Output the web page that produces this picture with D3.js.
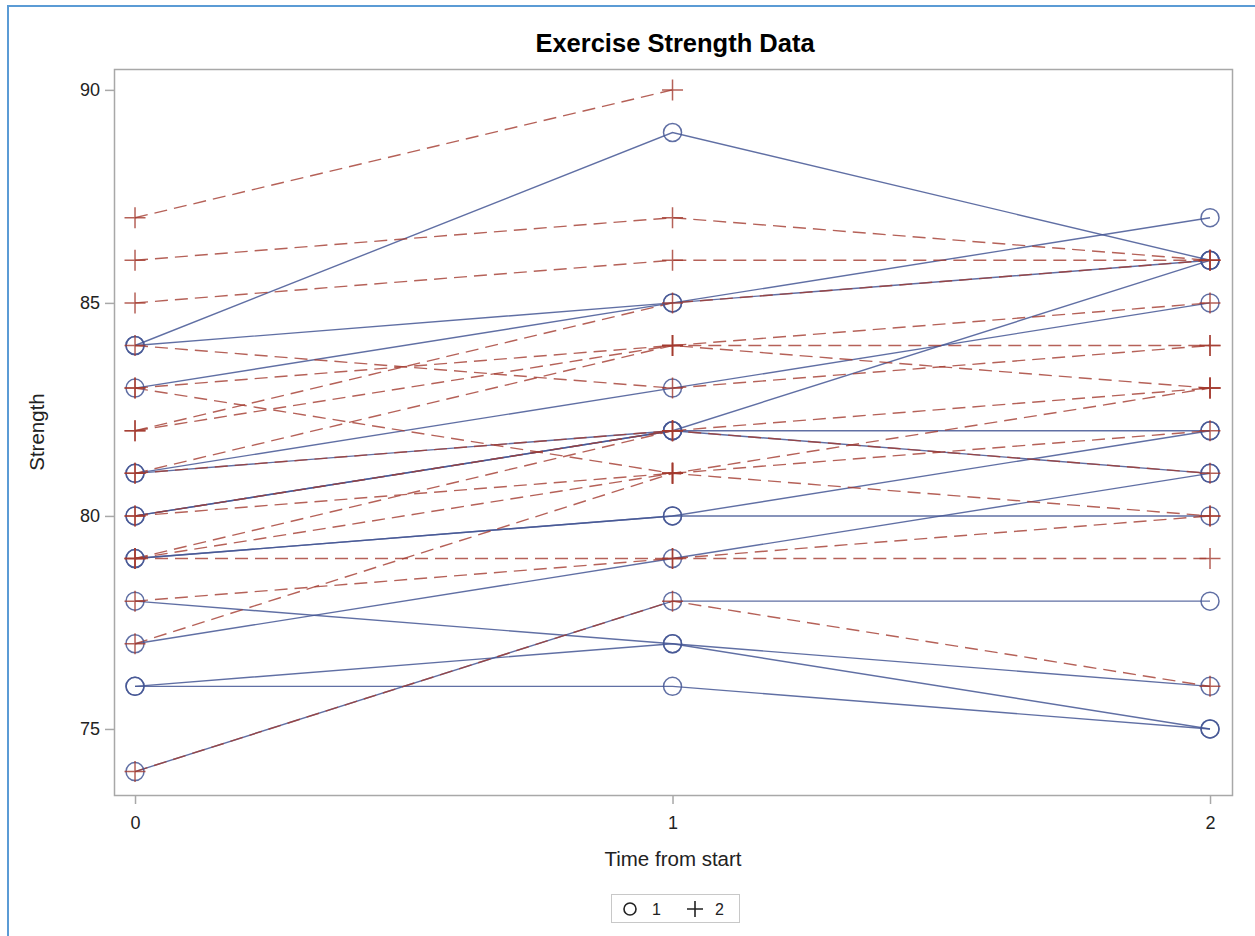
<!DOCTYPE html>
<html><head><meta charset="utf-8">
<script src="https://cdn.jsdelivr.net/npm/d3@7"></script>
<style>body{margin:0;background:#fff;}svg{display:block;font-family:"Liberation Sans",Arial,sans-serif;}</style>
</head><body>
<svg id="c" width="1255" height="936"></svg>
<script>
// ---- data ----
const times = [0, 1, 2];
const yTicks = [75, 80, 85, 90];
const programs = ["1", "2"];
// program 1 subjects: strength at time 0,1,2
const program1 = [
  [84, 89, 86], [84, 85, 87], [83, 85, 86], [81, 83, 85], [81, 82, 86],
  [80, 82, 82], [80, 82, 81], [79, 80, 80], [79, 80, 82], [77, 79, 81],
  [74, 78, 78], [78, 77, 76], [76, 77, 75], [76, 76, 75]
];
// program 2 subjects (null = missing)
const program2 = [
  [87, 90, null], [86, 87, 86], [85, 86, 86], [82, 85, 86], [84, 83, 84],
  [83, 84, 85], [82, 84, 84], [81, 84, 83], [83, 81, 83], [81, 82, 83],
  [80, 82, 81], [79, 82, null], [80, 81, 82], [79, 81, 80], [77, 81, null],
  [79, 79, 80], [78, 79, 79], [74, 78, 76]
];

const svg = d3.select("#c");
const W = 1255, H = 936;
const L = 114, R = 1232, T = 69, B = 795;
const blue = "#445694", red = "#A23A2E";

// page border
svg.append("path").attr("d", `M8,${H} L8,6 L${W},6`).attr("fill", "none")
  .attr("stroke", "#5b9bd5").attr("stroke-width", 2);

const x = d3.scaleLinear().domain([-0.0391, 2.0409]).range([L, R]);
const y = d3.scaleLinear().domain([73.45, 90.49]).range([B, T]);

// title
svg.append("text").attr("x", 675).attr("y", 52).attr("text-anchor", "middle")
  .attr("font-size", 25.5).attr("font-weight", "bold").attr("fill", "#000")
  .text("Exercise Strength Data");

// frame
svg.append("rect").attr("x", L + 0.5).attr("y", T + 0.5).attr("width", R - L).attr("height", B - T)
  .attr("fill", "none").attr("stroke", "#a8a8a8").attr("stroke-width", 1.5);

// axes
const ya = svg.append("g").attr("transform", `translate(${L},0)`)
  .call(d3.axisLeft(y).tickValues(yTicks).tickSize(9).tickPadding(5));
const xa = svg.append("g").attr("transform", `translate(0,${B})`)
  .call(d3.axisBottom(x).tickValues(times).tickSize(9).tickPadding(12).tickFormat(d3.format("d")));
[ya, xa].forEach(g => {
  g.select(".domain").remove();
  g.selectAll(".tick line").attr("stroke", "#a8a8a8").attr("stroke-width", 1.5);
  g.selectAll(".tick text").attr("font-size", 18).attr("fill", "#222")
    .attr("font-family", "'Liberation Sans', Arial, sans-serif");
});

svg.append("text").attr("transform", `translate(44,${(T + B) / 2}) rotate(-90)`)
  .attr("text-anchor", "middle").attr("font-size", 20.5).attr("fill", "#222").text("Strength");
svg.append("text").attr("x", (L + R) / 2).attr("y", 866).attr("text-anchor", "middle")
  .attr("font-size", 20.5).attr("fill", "#222").text("Time from start");

// lines
const line = d3.line().defined(d => d.v != null).x(d => x(d.t)).y(d => y(d.v));
const toPts = s => s.map((v, i) => ({ t: times[i], v }));

const plot = svg.append("g");
plot.selectAll(".l1").data(program1).join("path")
  .attr("d", s => line(toPts(s))).attr("fill", "none")
  .attr("stroke", blue).attr("stroke-opacity", 0.85).attr("stroke-width", 1.4);
plot.selectAll(".l2").data(program2).join("path")
  .attr("d", s => line(toPts(s))).attr("fill", "none")
  .attr("stroke", red).attr("stroke-opacity", 0.8).attr("stroke-width", 1.4)
  .attr("stroke-dasharray", "13,7");

// markers
const pts1 = program1.flatMap(s => toPts(s)).filter(d => d.v != null);
const pts2 = program2.flatMap(s => toPts(s)).filter(d => d.v != null);
plot.selectAll(".m1").data(pts1).join("circle")
  .attr("cx", d => x(d.t)).attr("cy", d => y(d.v)).attr("r", 9)
  .attr("fill", "none").attr("stroke", blue).attr("stroke-opacity", 0.85).attr("stroke-width", 1.5);
const ps = 10.5;
plot.selectAll(".m2").data(pts2).join("path")
  .attr("d", d => `M${x(d.t) - ps},${y(d.v)}H${x(d.t) + ps}M${x(d.t)},${y(d.v) - ps}V${y(d.v) + ps}`)
  .attr("fill", "none").attr("stroke", red).attr("stroke-opacity", 0.8).attr("stroke-width", 1.5);

// legend
const lg = svg.append("g");
lg.append("rect").attr("x", 611.5).attr("y", 894.5).attr("width", 128).attr("height", 28)
  .attr("fill", "#fff").attr("stroke", "#c8c8c8").attr("stroke-width", 1);
lg.append("circle").attr("cx", 630).attr("cy", 909).attr("r", 6)
  .attr("fill", "none").attr("stroke", "#222").attr("stroke-width", 1.6);
lg.append("text").attr("x", 652).attr("y", 915).attr("font-size", 16).attr("fill", "#222").text(programs[0]);
lg.append("path").attr("d", "M687,909H703M695,901V917").attr("stroke", "#222").attr("stroke-width", 1.6);
lg.append("text").attr("x", 715).attr("y", 915).attr("font-size", 16).attr("fill", "#222").text(programs[1]);
</script>
</body></html>
